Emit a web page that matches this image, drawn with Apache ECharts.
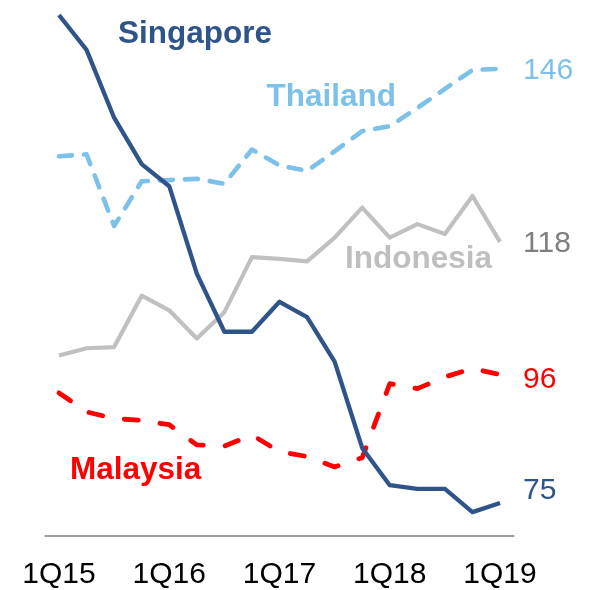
<!DOCTYPE html>
<html><head><meta charset="utf-8">
<script src="https://cdn.jsdelivr.net/npm/echarts@6/dist/echarts.min.js"></script>
<style>html,body{margin:0;padding:0;background:#fff;}#c{width:589px;height:590px;}</style>
</head><body><div id="c"></div>
<script>
var categories = ['1Q15','2Q15','3Q15','4Q15','1Q16','2Q16','3Q16','4Q16','1Q17','2Q17','3Q17','4Q17','1Q18','2Q18','3Q18','4Q18','1Q19'];
var singapore = [154.8,149.1,138,130.4,126.8,112.5,103,103,107.9,105.4,98.1,84,77.9,77.3,77.3,73.5,75];
var thailand  = [131.7,132,120.3,127.6,127.8,128,127.2,132.8,130.2,129.3,132.5,135.8,136.6,139.6,142.7,145.8,146];
var indonesia = [99.1,100.3,100.5,108.9,106.5,101.9,106.2,115.2,114.9,114.5,118.4,123.3,118.4,120.6,119,125.2,117.7];
var malaysia  = [93,89.9,88.8,88.5,87.8,84.5,84.3,86.1,83.4,82.6,80.9,82.4,94.5,93.7,95.6,97,96];
var endLabels = {Singapore:'75', Thailand:'146', Indonesia:'118', Malaysia:'96'};

var FONT = 'Liberation Sans, Arial, sans-serif';
var chart = echarts.init(document.getElementById('c'));

function mk(name, data, color, width, dash, labelColor, dy){
  return {
    name: name, type: 'line', data: data, symbol: 'none', clip: false,
    lineStyle: {color: color, width: width, type: dash || 'solid', cap: dash ? 'round' : 'butt', join: 'round'},
    itemStyle: {color: color},
    endLabel: {show: true, formatter: endLabels[name], color: labelColor, fontSize: 30,
      fontFamily: FONT, distance: 23, offset: [0, dy]},
    animation: false
  };
}

chart.setOption({
  animation: false,
  grid: {left: 45.2, right: 75.2, top: 13.74, bottom: 52},
  xAxis: {
    type: 'category', data: categories, boundaryGap: true,
    axisLine: {lineStyle: {color: '#808080', width: 1.5}},
    axisTick: {show: false},
    axisLabel: {interval: 3, color: '#000', fontSize: 30, fontFamily: FONT, margin: 24}
  },
  yAxis: {type: 'value', min: 69.6, max: 155, show: false, splitLine: {show: false}},
  series: [
    mk('Indonesia', indonesia, '#C0C0C0', 4.2, null, '#7F7F7F', 1.5),
    mk('Malaysia', malaysia, '#FF0000', 4.8, [14, 22], '#FF0000', 5),
    mk('Thailand', thailand, '#7DC1EB', 4.6, [13, 12], '#7DC1EB', 2),
    mk('Singapore', singapore, '#2F5489', 4.3, null, '#2F5489', -12)
  ],
  graphic: [
    {type: 'text', left: 118, top: 18, style: {text: 'Singapore', fill: '#2F5489', font: 'bold 31.5px ' + FONT}},
    {type: 'text', left: 266.5, top: 81, style: {text: 'Thailand', fill: '#7DC1EB', font: 'bold 31.5px ' + FONT}},
    {type: 'text', left: 345, top: 243, style: {text: 'Indonesia', fill: '#BFBFBF', font: 'bold 31.5px ' + FONT}},
    {type: 'text', left: 70, top: 454, style: {text: 'Malaysia', fill: '#FF0000', font: 'bold 31.5px ' + FONT}}
  ]
});
</script></body></html>
